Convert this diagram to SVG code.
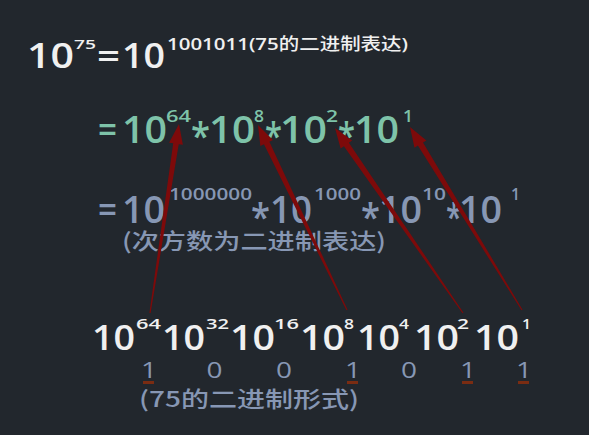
<svg xmlns="http://www.w3.org/2000/svg" width="589" height="435" viewBox="0 0 589 435">
<style>
text{font-family:"Open Sans","Noto Sans CJK SC",sans-serif;font-weight:600}
.c{font-family:"Noto Sans CJK SC",sans-serif;font-weight:500}
.w{fill:#f0f0f0}
.g{fill:#7ec3a9}
.b{fill:#8797b4}
.L{font-size:35px}
.M{font-size:38px}
.s16{font-size:16px}
.s17{font-size:17px}
.arrow{fill:#7d0a0a}
.ul{fill:#7a2c12}
#bits text{font-weight:400}
</style>
<rect width="589" height="435" fill="#22272d"/>
<g id="row1" class="w">
<text class="L" x="27" y="68" textLength="47" lengthAdjust="spacingAndGlyphs">10</text>
<text x="74" y="49" font-size="13" textLength="22" lengthAdjust="spacingAndGlyphs">75</text>
<text class="L" x="97" y="68" textLength="23" lengthAdjust="spacingAndGlyphs">=</text>
<text class="L" x="122" y="68" textLength="43" lengthAdjust="spacingAndGlyphs">10</text>
<text class="s17" x="167" y="50" textLength="241" lengthAdjust="spacingAndGlyphs">1001011(75<tspan class="c">的二进制表达</tspan>)</text>
</g>
<g id="row2" class="g">
<text class="M" x="98" y="143" textLength="19" lengthAdjust="spacingAndGlyphs">=</text>
<text class="M" x="122" y="143" textLength="45" lengthAdjust="spacingAndGlyphs">10</text>
<text class="s16" x="166" y="122" textLength="25" lengthAdjust="spacingAndGlyphs">64</text>
<text class="M" x="191" y="150" textLength="19" lengthAdjust="spacingAndGlyphs">*</text>
<text class="M" x="209" y="143" textLength="46" lengthAdjust="spacingAndGlyphs">10</text>
<text class="s16" x="254" y="122" textLength="10" lengthAdjust="spacingAndGlyphs">8</text>
<text class="M" x="265" y="150" textLength="17" lengthAdjust="spacingAndGlyphs">*</text>
<text class="M" x="280" y="143" textLength="47" lengthAdjust="spacingAndGlyphs">10</text>
<text class="s16" x="326" y="122" textLength="12" lengthAdjust="spacingAndGlyphs">2</text>
<text class="M" x="338" y="150" textLength="17" lengthAdjust="spacingAndGlyphs">*</text>
<text class="M" x="354" y="143" textLength="45" lengthAdjust="spacingAndGlyphs">10</text>
<text class="s16" x="403" y="122" textLength="10" lengthAdjust="spacingAndGlyphs">1</text>
</g>
<g id="row3" class="b">
<text class="M" x="98" y="223" textLength="19" lengthAdjust="spacingAndGlyphs">=</text>
<text class="M" x="122" y="223" textLength="43" lengthAdjust="spacingAndGlyphs">10</text>
<text class="s17" x="169" y="200" textLength="83" lengthAdjust="spacingAndGlyphs">1000000</text>
<text class="M" x="251" y="231" textLength="19" lengthAdjust="spacingAndGlyphs">*</text>
<text class="M" x="270" y="223" textLength="42" lengthAdjust="spacingAndGlyphs">10</text>
<text class="s17" x="314" y="200" textLength="47" lengthAdjust="spacingAndGlyphs">1000</text>
<text class="M" x="361" y="231" textLength="19" lengthAdjust="spacingAndGlyphs">*</text>
<text class="M" x="379" y="223" textLength="43" lengthAdjust="spacingAndGlyphs">10</text>
<text class="s17" x="422" y="200" textLength="24" lengthAdjust="spacingAndGlyphs">10</text>
<text class="M" x="446" y="231" textLength="16" lengthAdjust="spacingAndGlyphs">*</text>
<text class="M" x="459" y="223" textLength="43" lengthAdjust="spacingAndGlyphs">10</text>
<text class="s17" x="511" y="200" textLength="9" lengthAdjust="spacingAndGlyphs">1</text>
<text class="c" x="122" y="249" font-size="22" textLength="264" lengthAdjust="spacingAndGlyphs">(次方数为二进制表达)</text>
</g>
<g id="powers" class="w">
<text class="L" x="92" y="350" textLength="43" lengthAdjust="spacingAndGlyphs">10</text>
<text x="136" y="329" font-size="15" textLength="25" lengthAdjust="spacingAndGlyphs">64</text>
<text class="L" x="162" y="350" textLength="43" lengthAdjust="spacingAndGlyphs">10</text>
<text x="206" y="329" font-size="15" textLength="23" lengthAdjust="spacingAndGlyphs">32</text>
<text class="L" x="230" y="350" textLength="45" lengthAdjust="spacingAndGlyphs">10</text>
<text x="274" y="329" font-size="15" textLength="25" lengthAdjust="spacingAndGlyphs">16</text>
<text class="L" x="300" y="350" textLength="45" lengthAdjust="spacingAndGlyphs">10</text>
<text x="344" y="329" font-size="15" textLength="10" lengthAdjust="spacingAndGlyphs">8</text>
<text class="L" x="357" y="350" textLength="43" lengthAdjust="spacingAndGlyphs">10</text>
<text x="399" y="329" font-size="15" textLength="10" lengthAdjust="spacingAndGlyphs">4</text>
<text class="L" x="414" y="350" textLength="45" lengthAdjust="spacingAndGlyphs">10</text>
<text x="457" y="329" font-size="15" textLength="12" lengthAdjust="spacingAndGlyphs">2</text>
<text class="L" x="474" y="350" textLength="45" lengthAdjust="spacingAndGlyphs">10</text>
<text x="522" y="329" font-size="15" textLength="9" lengthAdjust="spacingAndGlyphs">1</text>
</g>
<g id="bits" class="b" font-size="22">
<text x="141" y="378" textLength="16" lengthAdjust="spacingAndGlyphs">1</text>
<text x="206.5" y="378" textLength="16" lengthAdjust="spacingAndGlyphs">0</text>
<text x="276" y="378" textLength="16" lengthAdjust="spacingAndGlyphs">0</text>
<text x="345" y="378" textLength="16" lengthAdjust="spacingAndGlyphs">1</text>
<text x="401" y="378" textLength="16" lengthAdjust="spacingAndGlyphs">0</text>
<text x="460" y="378" textLength="16" lengthAdjust="spacingAndGlyphs">1</text>
<text x="516" y="378" textLength="16" lengthAdjust="spacingAndGlyphs">1</text>
<rect class="ul" x="143" y="381" width="11" height="3"/>
<rect class="ul" x="347" y="381" width="11" height="3"/>
<rect class="ul" x="462" y="381" width="11" height="3"/>
<rect class="ul" x="518" y="381" width="11" height="3"/>
</g>
<g id="caption" class="b">
<text class="c" x="139" y="407" font-size="22" textLength="220" lengthAdjust="spacingAndGlyphs">(75的二进制形式)</text>
</g>
<g id="connectors" class="arrow">
<path d="M150.59,313.09 L178.74,144.20 L182.89,144.83 L179,124 L169.05,142.71 L173.20,143.34 L149.41,312.91 Z"/>
<path d="M347.54,309.74 L269.37,141.73 L272.98,139.99 L258,125 L260.36,146.05 L263.97,144.32 L346.46,310.26 Z"/>
<path d="M463.49,312.66 L348.85,142.74 L352.14,140.47 L335,128 L340.62,148.43 L343.91,146.16 L462.51,313.34 Z"/>
<path d="M522.51,309.69 L423.00,142.50 L426.41,140.41 L410,127 L414.47,147.71 L417.88,145.62 L521.49,310.31 Z"/>
</g>
</svg>
